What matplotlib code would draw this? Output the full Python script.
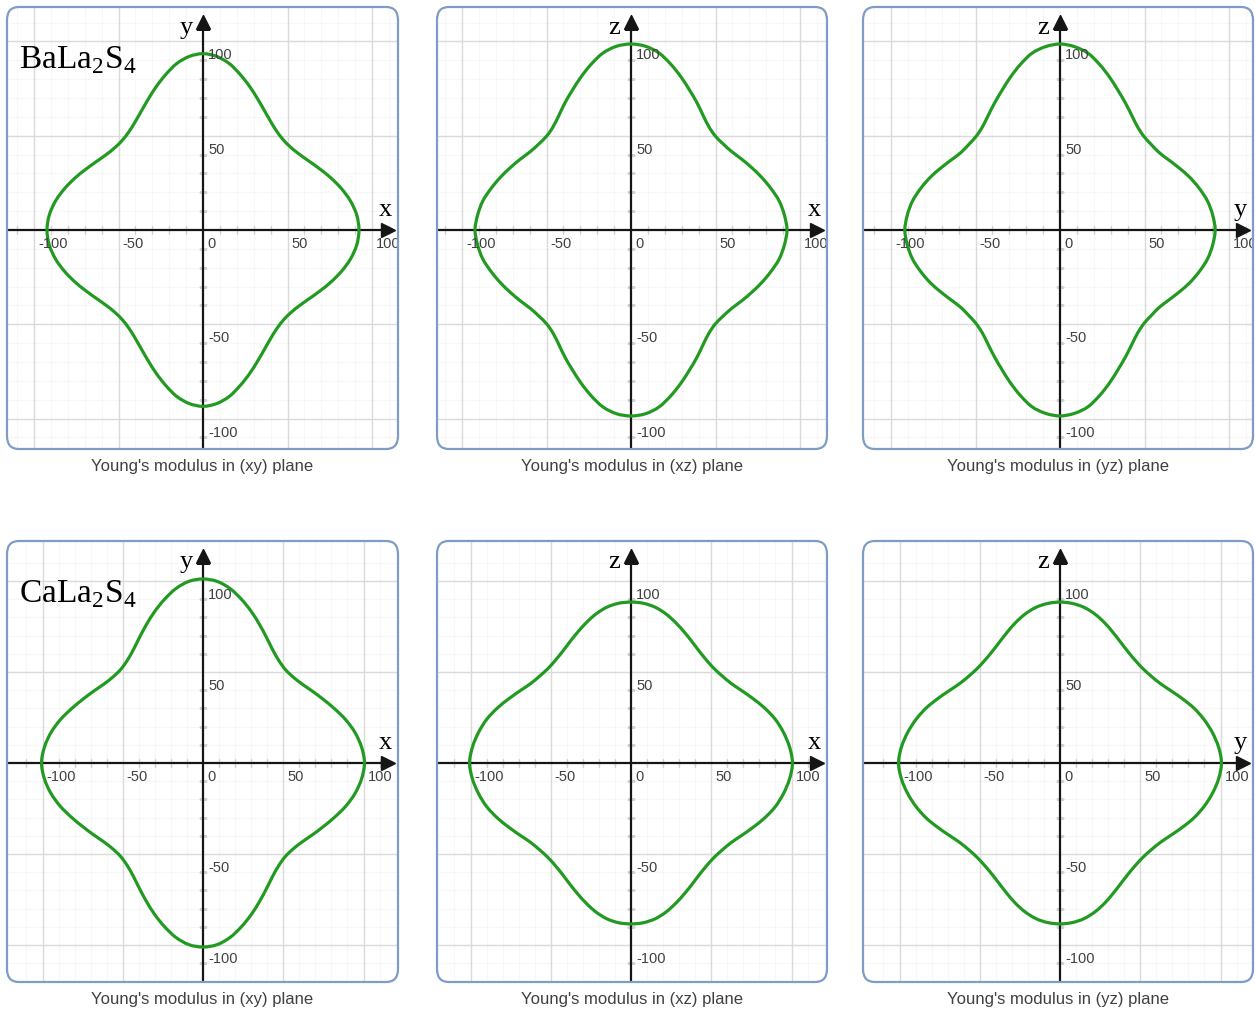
import numpy as np
import matplotlib.pyplot as plt
from matplotlib.patches import FancyBboxPatch, PathPatch
from matplotlib.path import Path

plt.rcParams['mathtext.fontset'] = 'custom'
plt.rcParams['mathtext.rm'] = 'Liberation Serif'

# polar angle (deg) in the first quadrant, the other three are mirrored
ANGLES = [0, 5, 10, 15, 20, 25, 30, 35, 40, 45,
          50, 55, 60, 65, 70, 75, 80, 85, 90]

# Young's modulus (GPa) along each angle
BALA_XY = [92.3, 91.3, 88.6, 84.8, 80.6, 76.4, 72.7, 69.8, 68.0, 67.4,
           68.1, 70.0, 72.9, 76.6, 80.9, 85.3, 89.6, 92.4, 93.5]
BALA_XZ = [92.3, 91.1, 89.0, 85.6, 82.1, 78.6, 75.4, 72.6, 71.1, 70.5,
           71.6, 74.3, 78.0, 81.9, 86.4, 91.0, 95.3, 97.8, 98.6]
BALA_YZ = [91.8, 90.7, 88.6, 85.3, 81.7, 77.8, 74.3, 71.6, 70.5, 70.2,
           71.4, 74.1, 77.6, 81.5, 86.1, 90.8, 95.2, 97.6, 98.6]
CALA_XY = [100.6, 99.2, 96.2, 92.0, 87.2, 82.7, 78.8, 75.5, 73.4, 72.6,
           73.5, 75.8, 79.4, 83.7, 88.4, 93.0, 97.3, 100.2, 101.1]
CALA_XZ = [100.6, 99.2, 96.5, 93.0, 88.5, 83.8, 79.6, 76.2, 74.3, 73.3,
           73.5, 74.6, 76.6, 79.1, 81.9, 84.7, 86.9, 88.1, 88.4]
CALA_YZ = [100.6, 99.2, 96.4, 92.8, 88.6, 83.9, 79.6, 76.2, 74.2, 73.2,
           73.3, 74.3, 76.2, 78.8, 81.8, 84.6, 86.8, 88.0, 88.4]

TICKS = [-100, -50, 0, 50, 100]
COMPOUNDS = ['BaLa$_\\mathrm{2}$S$_\\mathrm{4}$', 'CaLa$_\\mathrm{2}$S$_\\mathrm{4}$']
PLANES = ['xy', 'xz', 'yz']
AXIS_NAMES = [('x', 'y'), ('x', 'z'), ('y', 'z')]

FIG_W, FIG_H = 1255, 1012
GREEN = '#229a22'
FRAME = '#7f9cc6'


def closed_curve(radii):
    '''Mirror one quadrant of E(theta) into a closed x, y outline.'''
    th = np.radians(ANGLES)
    r = np.array(radii)
    x = r * np.cos(th)
    y = r * np.sin(th)
    cx = np.concatenate([x, -x[::-1][1:], -x[1:], x[::-1][1:]])
    cy = np.concatenate([y, y[::-1][1:], -y[1:], -y[::-1][1:]])
    return cx[:-1], cy[:-1]


def smooth_outline(cx, cy):
    '''Closed Bezier path running through every point (Catmull-Rom handles).'''
    p = np.column_stack([cx, cy])
    n = len(p)
    verts = [p[0]]
    codes = [Path.MOVETO]
    for i in range(n):
        p0, p1, p2, p3 = p[i - 1], p[i], p[(i + 1) % n], p[(i + 2) % n]
        verts += [p1 + (p2 - p0) / 6, p2 - (p3 - p1) / 6, p2]
        codes += [Path.CURVE4] * 3
    return Path(verts, codes)


def add_panel(fig, box, origin, scale, radii, names, caption, title=None):
    '''
    One framed polar plot. box = (left, top, width, height) in pixels,
    origin = pixel position of (0, 0), scale = pixels per GPa in x and y.
    '''
    left, top, w, h = box
    ox, oy = origin
    sx, sy = scale
    ax = fig.add_axes([left / FIG_W, 1 - (top + h) / FIG_H, w / FIG_W, h / FIG_H])
    ax.set_xlim((left - ox) / sx, (left + w - ox) / sx)
    ax.set_ylim((oy - top - h) / sy, (oy - top) / sy)
    ax.set_axis_off()

    back = FancyBboxPatch((0, 0), 1, 1, boxstyle='round,pad=0,rounding_size=0.03',
                          transform=ax.transAxes, facecolor='white',
                          edgecolor='none', clip_on=False, zorder=0)
    ax.add_patch(back)
    border = FancyBboxPatch((0, 0), 1, 1, boxstyle='round,pad=0,rounding_size=0.03',
                            transform=ax.transAxes, facecolor='none',
                            edgecolor=FRAME, lw=1.6, clip_on=False, zorder=10)
    ax.add_patch(border)

    # grid
    minor = [v for v in range(-110, 111, 10) if v % 50]
    for v in minor:
        ax.axvline(v, color='#f7f7f7', lw=0.8, zorder=1)
        ax.axhline(v, color='#f7f7f7', lw=0.8, zorder=1)
    for v in (-100, -50, 50, 100):
        ax.axvline(v, color='#dadada', lw=1.0, zorder=2)
        ax.axhline(v, color='#dadada', lw=1.0, zorder=2)

    # small ticks along both axes
    ax.plot(minor, np.zeros(len(minor)), ls='none', marker='|', ms=6,
            color='#d2d2d2', zorder=3)
    ax.plot(np.zeros(len(minor)), minor, ls='none', marker='_', ms=6,
            color='#d2d2d2', zorder=3)

    # axes with arrow heads
    xend = 1 - 10 / w
    yend = 1 - 15 / h
    ax.plot([0, xend], [0, 0], transform=ax.get_yaxis_transform(),
            color='#151515', lw=1.6, zorder=4)
    ax.plot([xend], [0], transform=ax.get_yaxis_transform(), marker='>',
            ms=10, color='#151515', zorder=4)
    ax.plot([0, 0], [0, yend], transform=ax.get_xaxis_transform(),
            color='#151515', lw=1.6, zorder=4)
    ax.plot([0], [yend], transform=ax.get_xaxis_transform(), marker='^',
            ms=10, color='#151515', zorder=4)

    for v in TICKS:
        ax.annotate(str(v), xy=(v, 0), xytext=(4, -6), textcoords='offset pixels',
                    ha='left', va='top', fontsize=10.5, color='#404040',
                    family='Liberation Sans', zorder=6, clip_on=True)
        if v != 0:
            ax.annotate(str(v), xy=(0, v), xytext=(5, -6),
                        textcoords='offset pixels', ha='left', va='top',
                        fontsize=10.5, color='#404040',
                        family='Liberation Sans', zorder=6, clip_on=True)

    ax.annotate(names[0], xy=(0, 0), xytext=(left + w - 13 - ox, 21),
                textcoords='offset pixels', ha='center', va='center',
                fontsize=19, family='Liberation Serif', zorder=6)
    ax.annotate(names[1], xy=(0, 0), xytext=(-17, oy - top - 20),
                textcoords='offset pixels', ha='center', va='center',
                fontsize=19, family='Liberation Serif', zorder=6)

    cx, cy = closed_curve(radii)
    ax.add_patch(PathPatch(smooth_outline(cx, cy), facecolor='none',
                           edgecolor=GREEN, lw=2.3, zorder=5))

    if title:
        ax.text(12 / w, 1 - 60 / h, title, transform=ax.transAxes,
                ha='left', va='baseline', fontsize=24,
                family='Liberation Serif', zorder=6)

    for art in ax.lines + ax.texts:
        art.set_clip_on(True)
        art.set_clip_path(back)

    fig.text((left + w / 2) / FIG_W, 1 - (top + h + 17) / FIG_H, caption,
             ha='center', va='center', fontsize=12, color='#404040',
             family='Liberation Sans')
    return ax


fig = plt.figure(figsize=(FIG_W / 100, FIG_H / 100), dpi=100)

columns = [(7, 391, 203), (437, 390, 631), (863, 390, 1060)]
rows = [(8, 442, 231, (1.69, 1.886)), (542, 441, 764, (1.605, 1.82))]
data = [[BALA_XY, BALA_XZ, BALA_YZ], [CALA_XY, CALA_XZ, CALA_YZ]]

for i, (top, h, oy, scale) in enumerate(rows):
    for j, (left, w, ox) in enumerate(columns):
        add_panel(fig, (left, top, w, h), (ox, oy), scale, data[i][j],
                  AXIS_NAMES[j], "Young's modulus in (%s) plane" % PLANES[j],
                  COMPOUNDS[i] if j == 0 else None)

plt.savefig('out.png', dpi=100, facecolor='white')
